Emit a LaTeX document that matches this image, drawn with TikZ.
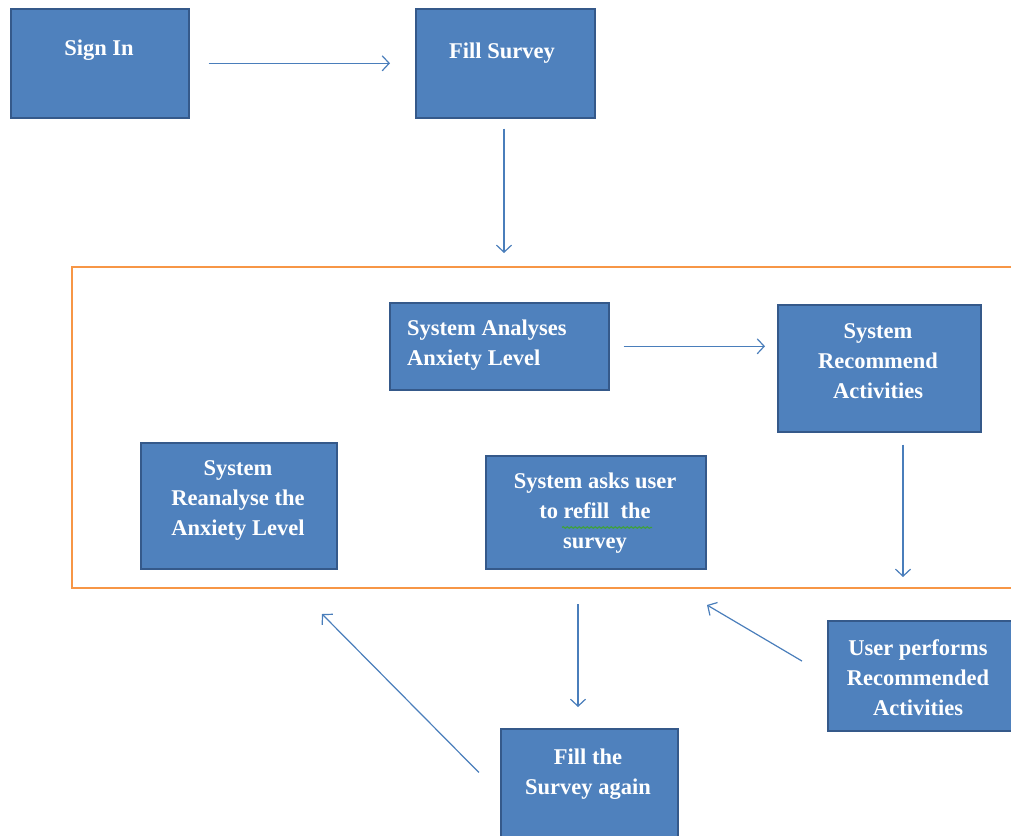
\documentclass[tikz,border=0pt]{standalone}
\usepackage{fontspec}
\setmainfont{Liberation Serif}
\usetikzlibrary{arrows.meta,decorations.pathmorphing}
\definecolor{boxfill}{HTML}{4F81BD}
\definecolor{boxline}{HTML}{35598A}
\definecolor{flow}{HTML}{4A7EBB}
\definecolor{loopframe}{HTML}{F79646}
\definecolor{spell}{HTML}{3FA03F}
\begin{document}
\begin{tikzpicture}[x=1pt,y=-1pt,
  box/.style={draw=boxline, line width=1.6pt, fill=boxfill, inner sep=0pt, anchor=north west},
  lbl/.style={text=white, font=\bfseries\fontsize{22.5}{30}\selectfont, align=center, inner sep=0pt},
  flowarrow/.style={draw=flow, line width=1.2pt, -{Straight Barb[length=7pt,width=15pt]}}]
\useasboundingbox (0,0) rectangle (1011,835);

% outer loop frame (open to the right)
\draw[loopframe, line width=2.6pt] (1020,267) -- (72,267) -- (72,588) -- (1020,588);

% process boxes
\node[box, minimum width=178pt, minimum height=109pt] (signin) at (10,8) {};
\node[box, minimum width=179pt, minimum height=109pt] (fill) at (415,8) {};
\node[box, minimum width=219pt, minimum height=87pt] (analyses) at (389,302) {};
\node[box, minimum width=203pt, minimum height=127pt] (recommend) at (777,304) {};
\node[box, minimum width=196pt, minimum height=126pt] (reanalyse) at (140,442) {};
\node[box, minimum width=220pt, minimum height=113pt] (asks) at (485,455) {};
\node[box, minimum width=177pt, minimum height=130pt] (again) at (500,728) {};
\node[box, minimum width=200pt, minimum height=110pt] (user) at (827,620) {};

% box captions
\node[lbl] (signinT) at (99,50) {Sign In};
\node[lbl] (fillT) at (502,53) {Fill Survey};
\node[lbl, align=left, anchor=west] (analysesT) at (407,345) {System Analyses\\Anxiety Level};
\node[lbl] (recommendT) at (878,361) {System\\Recommend\\Activities};
\node[lbl] (reanalyseT) at (238,500) {System\\Reanalyse the\\Anxiety Level};
\node[lbl] (asksT) at (595,513) {System asks user\\to refill\ \ the\\survey};
\node[lbl] (againT) at (588,774) {Fill the\\Survey again};
\node[lbl] (userT) at (918,678) {User performs\\Recommended\\Activities};

% spelling mark under the doubled space
\draw[spell, line width=1.1pt, decorate, decoration={snake, amplitude=0.9pt, segment length=4pt}]
  (562,527.5) -- (652,527.5);

% free ends of connectors
\coordinate (frameTop) at (504,253);
\coordinate (recEnd) at (903,577);
\coordinate (askOut) at (578,604);
\coordinate (userTip) at (707,605);
\coordinate (reTip) at (322,614);

% connectors
\draw[flowarrow, shorten <=19pt, shorten >=25pt] (signin) -- (fill);
\draw[flowarrow, shorten <=10pt] (fill.south -| frameTop) -- (frameTop);
\draw[flowarrow, shorten <=14pt, shorten >=12pt] (analyses.east) -- (analyses.east -| recommend.west);
\draw[flowarrow, shorten <=12pt] (recommend.south -| recEnd) -- (recEnd);
\draw[flowarrow, shorten >=21pt] (askOut) -- (askOut |- again.north);
\draw[flowarrow, shorten <=29pt] (user.west) -- (userTip);
\draw[flowarrow, shorten <=30pt] (again.west) -- (reTip);
\end{tikzpicture}
\end{document}
